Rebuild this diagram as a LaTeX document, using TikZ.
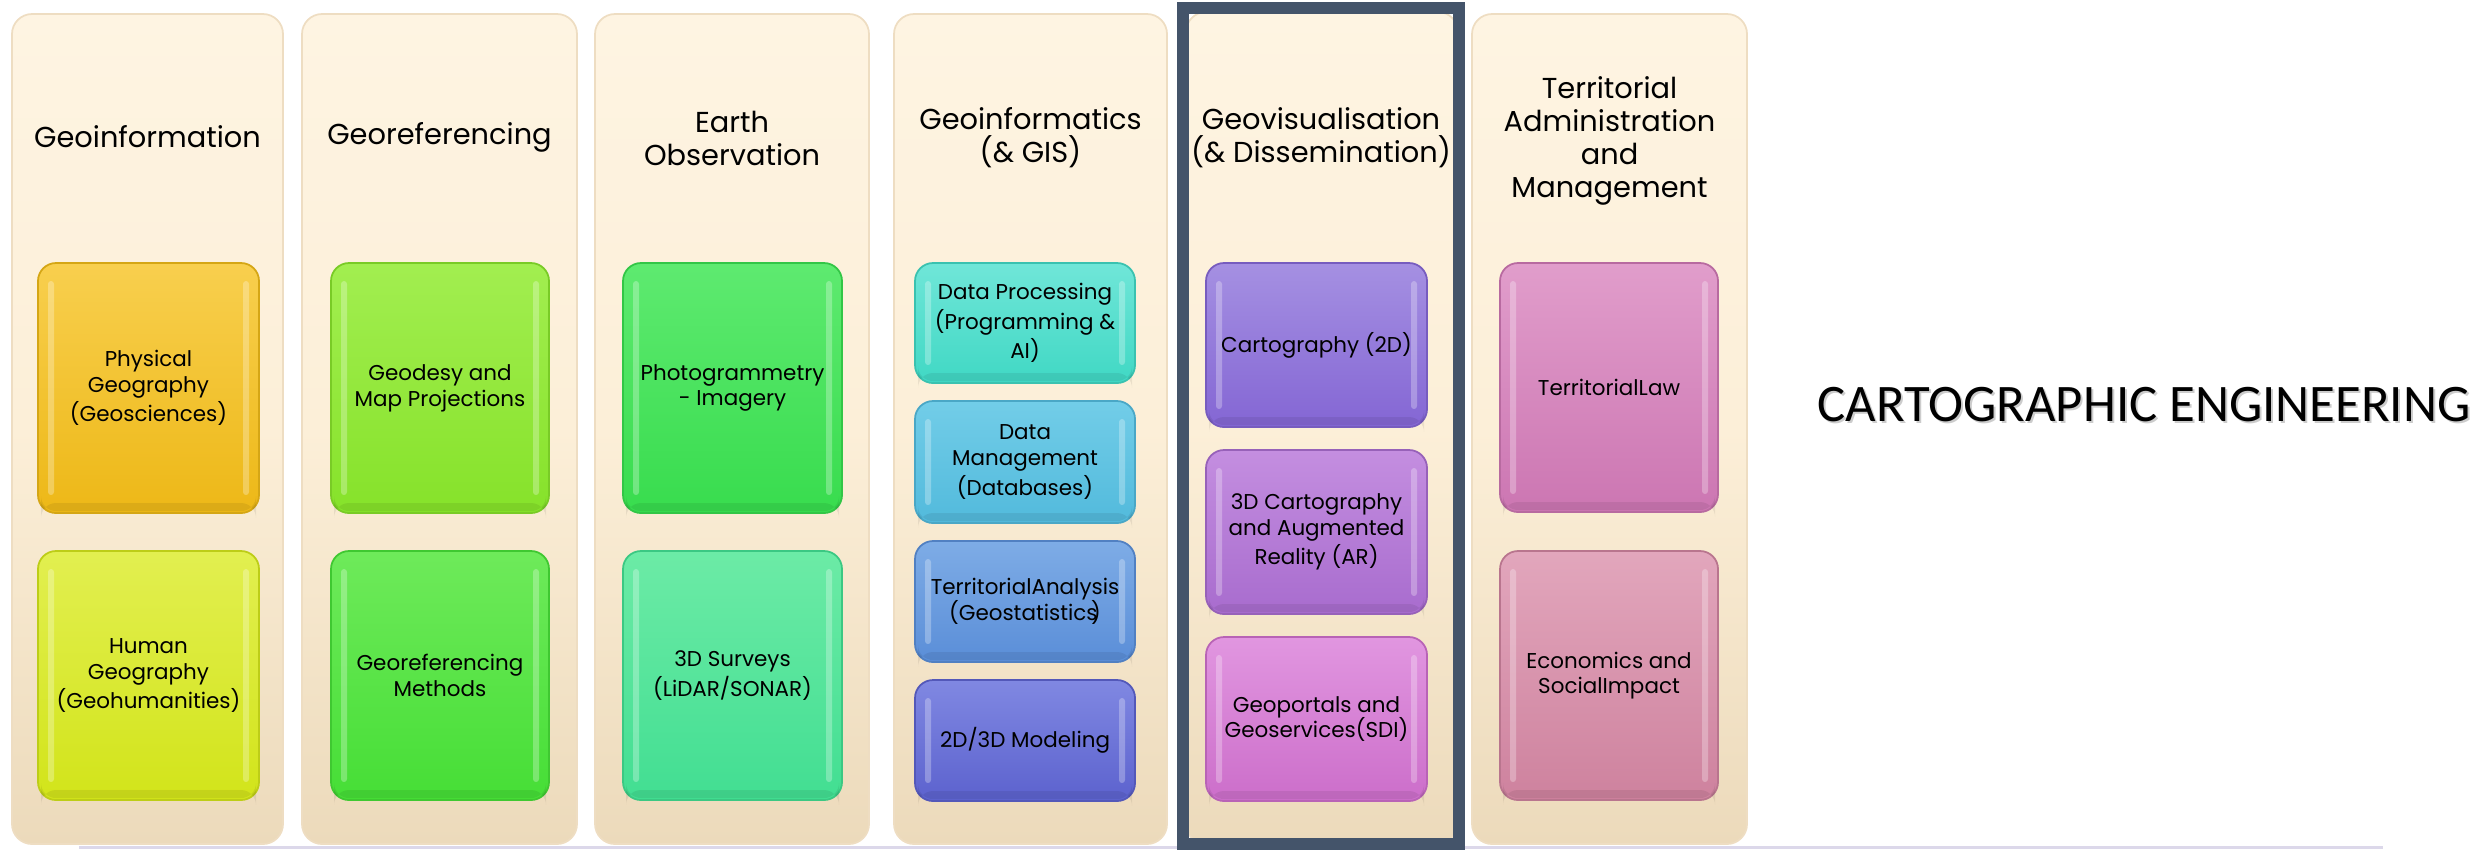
\documentclass[tikz,border=0pt]{standalone}
\usepackage{fontspec}
\setmainfont{Poppins}
\newfontfamily\calibfont{Carlito}
\usetikzlibrary{fit,calc}
\definecolor{colT}{HTML}{FEF4E2}
\definecolor{colM}{HTML}{FCEFD8}
\definecolor{colB}{HTML}{ECDABB}
\definecolor{colE}{HTML}{EEDDC2}
\definecolor{frameC}{HTML}{44546A}
\definecolor{lineC}{HTML}{DCD8EA}
\tikzset{
  colx/.style={rounded corners=0.2cm, inner sep=0pt, outer sep=0pt, top color=colT, bottom color=colB, middle color=colM, draw=colE, line width=0.5pt},
  ibx/.style={rounded corners=0.18cm, inner sep=0pt, outer sep=0pt, line width=0.5pt},
  btext/.style={align=center, font=\fontsize{6.1}{7.3}\selectfont, text=black, inner sep=0pt},
  ttext/.style={align=center, font=\fontsize{8.2}{9.4}\selectfont, text=black, inner sep=0pt},
}
\newcommand{\cbox}[5]{\node[colx, fit={(#2,#3) (#4,#5)}] (#1) {};}
\newcommand{\ibox}[8]{%
  \definecolor{ibT}{HTML}{#6}\definecolor{ibB}{HTML}{#7}%
  \node[ibx, top color=ibT, bottom color=ibB, draw=ibB!90!black, fit={(#2,#3) (#4,#5)}] (#1) {};
  \fill[white, opacity=.28, rounded corners=0.03cm] ($(#1.north west)+(10,18)$) rectangle ($(#1.south west)+(16,-18)$);
  \fill[white, opacity=.28, rounded corners=0.03cm] ($(#1.north east)+(-16,18)$) rectangle ($(#1.south east)+(-10,-18)$);
  \fill[black, opacity=.07, rounded corners=0.15cm] ($(#1.south west)+(3,-10)$) rectangle ($(#1.south east)+(-3,-2)$);
  \node[btext] (#1t) at (#1.center) {#8};
}
\begin{document}
\begin{tikzpicture}[x=0.01cm, y=-0.01cm]
\useasboundingbox (0,0) rectangle (2489,850);
% base line
\coordinate (bl1) at (79,847);
\coordinate (bl2) at (2383,847);
\draw[line width=0.03cm, lineC] (bl1) -- (bl2);
% columns
\cbox{c1}{12}{14}{283}{844}
\cbox{c2}{302}{14}{577}{844}
\cbox{c3}{595}{14}{869}{844}
\cbox{c4}{894}{14}{1167}{844}
\cbox{c5}{1186}{12}{1458}{844}
\cbox{c6}{1472}{14}{1747}{844}
% titles
\node[ttext] (t1) at (147.5,137) {Geoinformation};
\node[ttext] (t2) at (439.5,137) {Georeferencing};
\node[ttext] (t3) at (732,138) {Earth\\Observation};
\node[ttext] (t4) at (1030.5,138) {Geoinformatics\\(\& GIS)};
\node[ttext] (t5) at (1321,138) {Geovisualisation\\(\& Dissemination)};
\node[ttext] (t6) at (1609.5,141) {Territorial\\Administration\\and\\Management};
% column 1
\ibox{b11}{38}{263}{259}{513}{F8CF4E}{EDB817}{Physical\\Geography\\(Geosciences)}
\ibox{b12}{38}{551}{259}{800}{E2EF50}{D2E41A}{Human\\Geography\\(Geohumanities)}
% column 2
\ibox{b21}{331}{263}{549}{513}{A2EE50}{86E22A}{Geodesy and\\Map Projections}
\ibox{b22}{331}{551}{549}{800}{6EEA5A}{46DE36}{Georeferencing\\Methods}
% column 3
\ibox{b31}{623}{263}{842}{513}{5EEA70}{38DC4E}{Photogrammetry\\- Imagery}
\ibox{b32}{623}{551}{842}{800}{6CEBA6}{42DE92}{3D Surveys\\(LiDAR/SONAR)}
% column 4
\ibox{b41}{915}{263}{1135}{383}{70E6D8}{40D8C4}{Data Processing\\(Programming \&\\AI)}
\ibox{b42}{915}{401}{1135}{523}{72CDE8}{52BADC}{Data\\Management\\(Databases)}
\ibox{b43}{915}{541}{1135}{662}{7EACE6}{5A8ED8}{TerritorialAnalysis\\(Geostatistics\kern-0.3em)}
\ibox{b44}{915}{680}{1135}{801}{8088E2}{5C62CE}{2D/3D Modeling}
% column 5
\ibox{b51}{1206}{263}{1427}{427}{A590E2}{8466D4}{Cartography (2D)}
\ibox{b52}{1206}{450}{1427}{614}{C48EE0}{A86CCE}{3D Cartography\\and Augmented\\Reality (AR)}
\ibox{b53}{1206}{637}{1427}{801}{E196E0}{CC6ECA}{Geoportals and\\Geoservices(SDI)}
% column 6
\ibox{b61}{1500}{263}{1718}{512}{E19DCB}{CC76B2}{TerritorialLaw}
\ibox{b62}{1500}{551}{1718}{800}{E2A6BC}{CE829E}{Economics and\\SocialImpact}
% frame around column 5
\node[draw=frameC, line width=0.12cm, inner sep=0pt, outer sep=0pt, fit={(1183,8) (1459,844)}] (frame) {};
% side label
\node[font=\calibfont\fontsize{15}{18}\selectfont, text=black!40, opacity=0.5, inner sep=0pt] (ceshadow) at (2146,407) {CARTOGRAPHIC ENGINEERING};
\node[font=\calibfont\fontsize{15}{18}\selectfont, text=black, inner sep=0pt] (ce) at (2144,405) {CARTOGRAPHIC ENGINEERING};
\end{tikzpicture}
\end{document}
